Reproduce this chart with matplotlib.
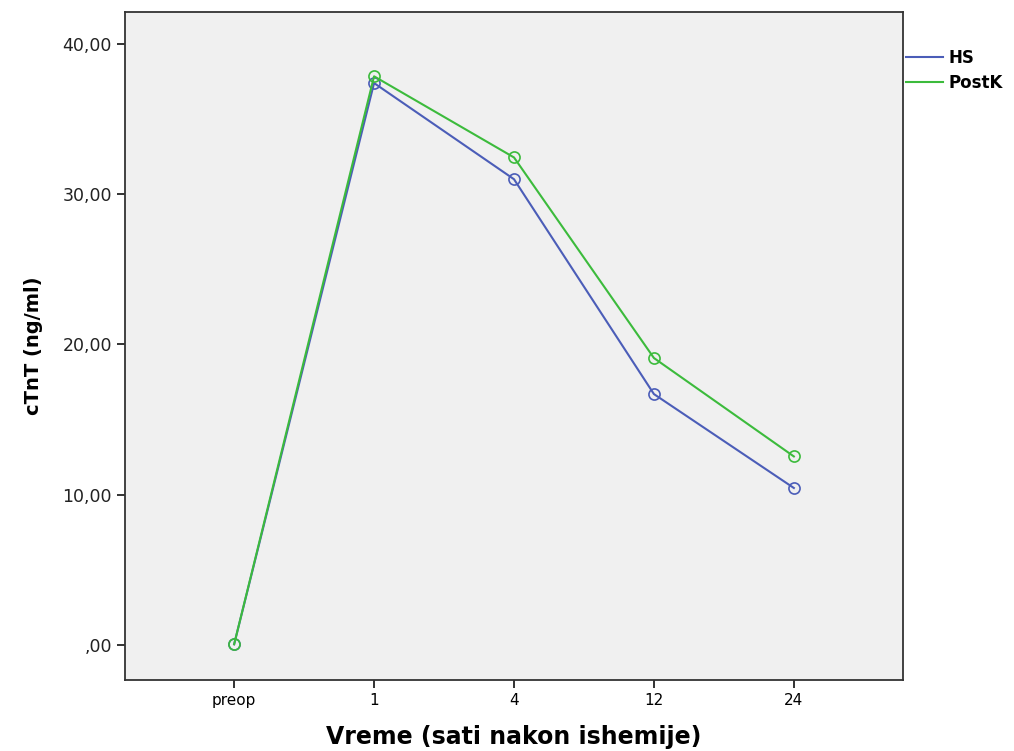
import matplotlib.pyplot as plt
from matplotlib.lines import Line2D

# vremenske tacke i srednje vrednosti cTnT
categories = ['preop', '1', '4', '12', '24']
hs_values = [0.05, 37.4, 31.0, 16.7, 10.45]
postk_values = [0.05, 37.85, 32.45, 19.1, 12.55]
ytick_values = [0, 10, 20, 30, 40]
ytick_labels = [',00', '10,00', '20,00', '30,00', '40,00']

hs_color = '#4B5DB8'
postk_color = '#3CBB3C'

fig = plt.figure(figsize=(10.14, 7.51), dpi=100)
ax = fig.add_axes([125 / 1014, 1 - 680 / 751, 778 / 1014, 668 / 751])
ax.set_facecolor('#F0F0F0')

x = range(len(categories))
ax.plot(x, hs_values, color=hs_color, lw=1.5, marker='o', ms=8,
        mfc='none', mew=1.2)
ax.plot(x, postk_values, color=postk_color, lw=1.5, marker='o', ms=8,
        mfc='none', mew=1.2)

ax.set_xlim(-0.78, 4.78)
ax.set_ylim(-2.33, 42.13)
ax.set_xticks(list(x))
ax.set_xticklabels(categories, fontsize=11)
ax.set_yticks(ytick_values)
ax.set_yticklabels(ytick_labels, fontsize=12.5, color='#222222')
ax.tick_params(direction='out', length=6, width=1.3, color='#222222')

for s in ax.spines.values():
    s.set_linewidth(1.3)
    s.set_color('#333333')

ax.set_xlabel('Vreme (sati nakon ishemije)', fontsize=17, fontweight='bold', labelpad=12)
ax.set_ylabel('cTnT (ng/ml)', fontsize=14, fontweight='bold', labelpad=14)

handles = [Line2D([], [], color=hs_color, lw=1.5),
           Line2D([], [], color=postk_color, lw=1.5)]
ax.legend(handles, ['HS', 'PostK'], loc='upper left', bbox_to_anchor=(1.004, 0.945),
          frameon=False, prop={'weight': 'bold', 'size': 12}, handlelength=2.2,
          handletextpad=0.35, labelspacing=0.45, borderaxespad=0.0, borderpad=0.0)

fig.savefig('out.png', dpi=100)
